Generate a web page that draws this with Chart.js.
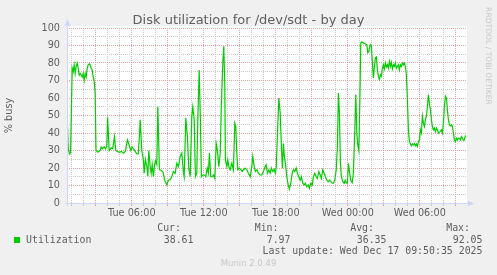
<!DOCTYPE html>
<html>
<head>
<meta charset="utf-8">
<script src="https://cdn.jsdelivr.net/npm/chart.js@4/dist/chart.umd.min.js"></script>
<style>
  html, body { margin: 0; padding: 0; background: #f0f0f0; }
  canvas { display: block; }
</style>
</head>
<body>
<canvas id="myChart" width="497" height="275"></canvas>
<script>
// sample times, minutes since Tue 00:00
var minutes = [
  37, 42, 49, 54, 62, 67, 72, 77, 82, 87, 92, 97, 102, 107, 112, 117, 122, 127, 132, 137,
  142, 147, 152, 157, 162, 167, 172, 177, 181, 190, 202, 207, 213, 222, 228, 235, 239, 247, 257, 265,
  273, 280, 288, 298, 308, 318, 328, 338, 347, 355, 362, 368, 377, 385, 392, 398, 402, 410, 418, 422,
  428, 435, 440, 445, 452, 457, 462, 468, 473, 478, 485, 490, 498, 502, 515, 527, 535, 543, 552, 560,
  568, 577, 585, 593, 602, 610, 618, 622, 630, 638, 645, 652, 660, 665, 672, 678, 685, 690, 697, 703,
  708, 715, 723, 730, 737, 743, 748, 755, 762, 768, 775, 782, 788, 795, 802, 808, 815, 820, 825, 828,
  835, 840, 847, 852, 860, 868, 875, 880, 885, 890, 897, 905, 912, 918, 927, 935, 943, 952, 960, 965,
  972, 978, 985, 993, 1002, 1010, 1018, 1027, 1032, 1038, 1045, 1052, 1058, 1065, 1072, 1077, 1082, 1088, 1095, 1102,
  1108, 1113, 1118, 1123, 1130, 1135, 1142, 1148, 1155, 1162, 1168, 1175, 1182, 1188, 1195, 1202, 1208, 1215, 1222, 1228,
  1235, 1242, 1248, 1255, 1262, 1268, 1275, 1282, 1288, 1295, 1302, 1308, 1315, 1322, 1328, 1335, 1342, 1348, 1355, 1362,
  1368, 1375, 1382, 1388, 1393, 1398, 1403, 1408, 1415, 1422, 1427, 1432, 1438, 1443, 1448, 1455, 1462, 1468, 1475, 1480,
  1485, 1490, 1495, 1500, 1505, 1510, 1518, 1527, 1535, 1540, 1545, 1552, 1558, 1563, 1568, 1573, 1578, 1583, 1588, 1593,
  1598, 1603, 1608, 1613, 1618, 1623, 1628, 1633, 1638, 1643, 1648, 1653, 1658, 1663, 1668, 1673, 1678, 1683, 1688, 1693,
  1698, 1703, 1708, 1713, 1718, 1723, 1728, 1733, 1738, 1743, 1748, 1753, 1758, 1763, 1768, 1773, 1778, 1783, 1788, 1793,
  1798, 1803, 1808, 1813, 1818, 1823, 1828, 1833, 1838, 1843, 1848, 1853, 1858, 1863, 1868, 1873, 1878, 1883, 1888, 1893,
  1903, 1908, 1913, 1918, 1923, 1928, 1933, 1938, 1943, 1948, 1953, 1958, 1963, 1968, 1973, 1978, 1983, 1988, 1993, 1998,
  2003, 2008, 2013, 2018, 2023, 2028
]
// % busy at those times
var busy = [
  50, 31, 28, 29, 77, 75, 79, 74, 78, 80, 77, 73, 74, 73, 72, 74, 70, 74, 72, 77,
  79, 79.5, 79, 77, 76, 72, 70, 62, 30, 29, 30, 32, 31, 32, 31, 32.5, 49, 30, 31.5, 31,
  38, 30, 29.5, 29, 29.5, 28.5, 29.5, 36, 33, 30, 32, 31, 29.5, 28, 28, 38, 47.5, 30, 24.6, 17,
  25, 21, 15.3, 30, 21, 17, 21.8, 15, 21, 24, 22, 55, 19, 19, 18, 12.2, 10.3, 13, 13.4, 15,
  18, 17, 22.7, 20.8, 26.5, 28.5, 17.6, 15, 48.5, 38, 19.9, 15, 49.5, 55, 47.6, 15, 17, 47.6, 76, 47.6,
  15, 16, 16, 15, 20, 17, 28.5, 15, 15, 16, 14, 34, 30, 20.8, 28.5, 57, 80, 89.6, 66.7, 24.6,
  20.8, 24.6, 19.9, 19, 22.7, 19, 45.6, 43.7, 28.5, 19, 19.9, 19, 18, 19, 19.9, 19, 17, 15, 20.8, 26.5,
  20.8, 18, 19, 17, 16, 16, 18, 20.8, 21.8, 17, 19, 17, 20, 18, 19.3, 17, 20, 38, 60, 51.4,
  32, 19.9, 34, 26.5, 20.8, 15, 10.3, 7.97, 11.3, 17, 19, 18, 20, 17, 15, 13, 15, 11.3, 10.3, 11.3,
  9.4, 10.3, 8.4, 11.3, 10.3, 15, 17, 15, 14, 18, 16, 14, 19, 17, 15, 13, 12.2, 13, 12.2, 11.3,
  11.3, 13, 19, 32, 62.8, 51.4, 22.7, 15, 12.2, 11.3, 13, 11.6, 11.3, 22.7, 18, 13, 11.6, 17, 41.8, 62,
  40, 33, 30, 57, 91.5, 92.05, 91.5, 91, 90.5, 85.8, 86.7, 90.5, 90, 80, 71.4, 78, 83, 83.5, 76, 72.4,
  70.5, 73.3, 72.4, 77, 79, 76.6, 80, 77.7, 79, 77, 81, 78, 80.4, 76.6, 79, 78, 80, 77, 78, 79,
  76, 79, 78, 80, 79, 80, 78, 73, 59, 41.8, 35, 34, 32.7, 33.8, 33.2, 34, 32.7, 33.8, 32.3, 35,
  36, 41.8, 40, 49.5, 45.6, 43.7, 47.6, 49.5, 55, 62, 57, 53.3, 47.6, 43.7, 41.8, 42.8, 40.9, 42.8, 41.8, 40,
  40.9, 41.8, 40, 45.6, 55, 61, 60, 53.3, 47.6, 44.7, 44, 44.7, 43.7, 40, 36, 35, 37, 36, 37, 37,
  36, 38, 37, 35.8, 36, 38.61
]
var timeTicks = [360, 720, 1080, 1440, 1800]
var timeLabels = ['Tue 06:00', 'Tue 12:00', 'Tue 18:00', 'Wed 00:00', 'Wed 06:00']
var statNames = ['Cur:', 'Min:', 'Avg:', 'Max:']
var statValues = ['38.61', '7.97', '36.35', '92.05']
var seriesName = 'Utilization'
var titleText = 'Disk utilization for /dev/sdt - by day'

var GRID = '#c9c9c9'
var MGRID = '#e6a2a2'
var AXIS = '#cfd6f8'
var FONT = '#5e5e5e'
var LINE = '#00cc00'

var hourTicks = []
for (var h = 60; h <= 1980; h += 60) hourTicks.push({value: h})
var busyTicks = []
for (var b = 0; b <= 100; b += 5) busyTicks.push({value: b})

var points = minutes.map(function (m, i) { return {x: m, y: busy[i]} })

// munin-style frame, title, axes and legend
var muninDecor = {
  id: 'muninDecor',
  beforeDraw (chart) {
    var ctx = chart.ctx
    var a = chart.chartArea
    ctx.save()
    ctx.fillStyle = '#f0f0f0'
    ctx.fillRect(0, 0, chart.width, chart.height)
    ctx.fillStyle = '#ffffff'
    ctx.fillRect(a.left, a.top - 2, a.right - a.left, a.bottom - a.top + 2)
    ctx.restore()
  },
  afterDraw (chart) {
    var ctx = chart.ctx
    var a = chart.chartArea
    var x0 = Math.round(a.left) + 0.5
    var y0 = Math.round(a.bottom) + 0.5
    ctx.save()
    // title
    ctx.fillStyle = FONT
    ctx.font = '13px "DejaVu Sans"'
    ctx.textAlign = 'center'
    ctx.textBaseline = 'alphabetic'
    ctx.fillText(titleText, 248.5, 24)

    // axes with arrows
    ctx.strokeStyle = AXIS
    ctx.fillStyle = AXIS
    ctx.lineWidth = 1
    ctx.beginPath()
    ctx.moveTo(x0, y0 + 2)
    ctx.lineTo(x0, a.top - 4)
    ctx.moveTo(x0 - 2, y0)
    ctx.lineTo(a.right + 2, y0)
    ctx.stroke()
    ctx.beginPath()
    ctx.moveTo(x0, a.top - 9)
    ctx.lineTo(x0 - 3, a.top - 2)
    ctx.lineTo(x0 + 3, a.top - 2)
    ctx.closePath()
    ctx.fill()
    ctx.beginPath()
    ctx.moveTo(a.right + 7, y0)
    ctx.lineTo(a.right + 1, y0 - 3)
    ctx.lineTo(a.right + 1, y0 + 3)
    ctx.closePath()
    ctx.fill()

    // legend
    ctx.fillStyle = LINE
    ctx.fillRect(14, 237, 6, 6)
    ctx.font = '9.9px "DejaVu Sans Mono"'
    ctx.fillStyle = FONT
    ctx.textBaseline = 'middle'
    ctx.textAlign = 'left'
    ctx.fillText(seriesName, 26, 240)
    ctx.textAlign = 'right'
    var nameRight = [181, 278.5, 374, 470]
    var valueRight = [193.5, 290.5, 386.5, 482.5]
    for (var i = 0; i < statNames.length; i++) {
      ctx.fillText(statNames[i], nameRight[i], 228.5)
      ctx.fillText(statValues[i], valueRight[i], 240)
    }
    ctx.fillText('Last update: Wed Dec 17 09:50:35 2025', 482.5, 251)

    // watermarks
    ctx.fillStyle = '#c8c8c8'
    ctx.textAlign = 'center'
    ctx.font = '8.5px "DejaVu Sans"'
    ctx.fillText('Munin 2.0.49', 248.5, 264)
    ctx.translate(488, 56)
    ctx.rotate(Math.PI / 2)
    ctx.font = '7.6px "DejaVu Sans"'
    ctx.fillText('RRDTOOL / TOBI OETIKER', 0, 0)
    ctx.restore()
  }
}

var chart = new Chart(document.getElementById('myChart').getContext('2d'), {
  type: 'line',
  data: {
    datasets: [{
      label: seriesName,
      data: points,
      borderColor: LINE,
      borderWidth: 1.2,
      pointRadius: 0,
      tension: 0,
      fill: false
    }]
  },
  options: {
    responsive: false,
    animation: false,
    devicePixelRatio: 1,
    layout: {padding: {top: 28, right: 30, bottom: 0, left: 0}},
    plugins: {
      legend: {display: false},
      tooltip: {enabled: false},
      title: {display: false}
    },
    scales: {
      x: {
        type: 'linear',
        min: 36,
        max: 2036,
        afterBuildTicks (axis) { axis.ticks = hourTicks.slice() },
        afterFit (axis) { axis.height = 72 },
        grid: {
          color (c) { return c.tick && c.tick.value % 180 === 0 ? MGRID : GRID },
          tickColor (c) { return c.tick && c.tick.value % 180 === 0 ? MGRID : GRID },
          tickLength: 3,
          lineWidth: 1
        },
        border: {display: false, dash: [1, 1]},
        ticks: {
          autoSkip: false,
          maxRotation: 0,
          padding: 2,
          color: FONT,
          font: {family: 'DejaVu Sans', size: 9.7},
          callback (v) {
            var k = timeTicks.indexOf(v)
            return k >= 0 ? timeLabels[k] : ''
          }
        }
      },
      y: {
        min: 0,
        max: 100,
        afterBuildTicks (axis) { axis.ticks = busyTicks.slice() },
        afterFit (axis) { axis.width = 67 },
        grid: {
          color (c) { return c.tick && c.tick.value % 10 === 0 ? MGRID : GRID },
          drawTicks: false,
          lineWidth: 1
        },
        border: {display: false, dash: [1, 1]},
        title: {
          display: true,
          text: '% busy',
          color: FONT,
          font: {family: 'DejaVu Sans', size: 9.7},
          padding: {top: 4, bottom: 0}
        },
        ticks: {
          autoSkip: false,
          padding: 7,
          color: FONT,
          font: {family: 'DejaVu Sans', size: 9.7},
          callback (v) { return v % 10 === 0 ? String(v) : '' }
        }
      }
    }
  },
  plugins: [muninDecor]
})
</script>
</body>
</html>
